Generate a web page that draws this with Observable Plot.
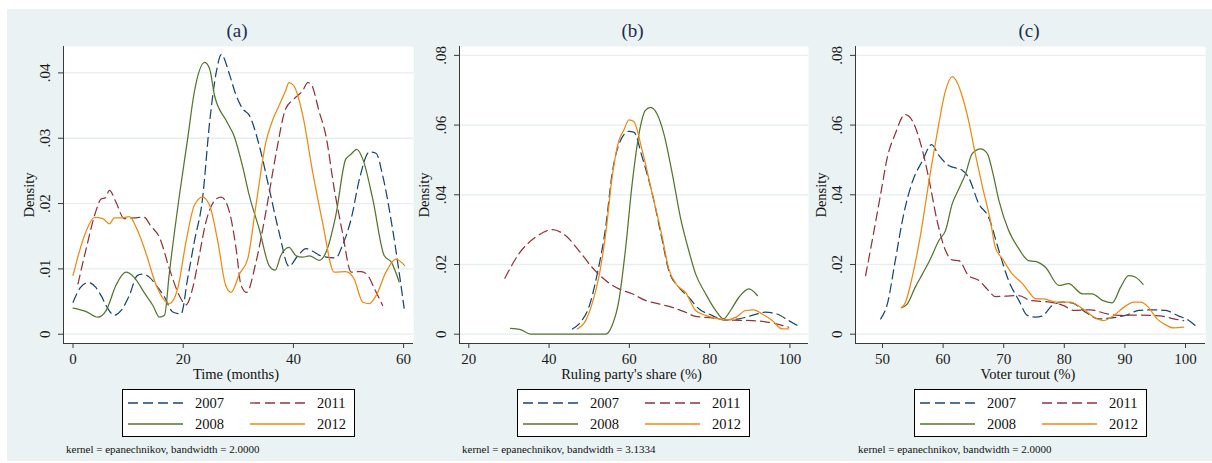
<!DOCTYPE html>
<html><head><meta charset="utf-8">
<script src="https://cdn.jsdelivr.net/npm/d3@7"></script>
<script src="https://cdn.jsdelivr.net/npm/@observablehq/plot@0.6"></script>
<style>
html,body{margin:0;padding:0;background:#fff;}
body{width:1212px;height:463px;position:relative;overflow:hidden;font-family:"Liberation Serif","Times New Roman",serif;}
#bg{position:absolute;left:7px;top:9px;width:1205px;height:452px;background:#eaf2f3;}
.abs{position:absolute;white-space:nowrap;}
.ctr{transform:translate(-50%,-50%);}
.title{font-size:19px;color:#1d2c4c;}
.axt{font-size:14.5px;color:#111;}
.rot{transform:translate(-50%,-50%) rotate(-90deg);}
.note{font-size:11px;color:#111;transform:translateY(-50%);}
</style>
</head><body>
<div id="bg"></div>
<script>
// ---------------- DATA ----------------
const years = [2007, 2011, 2008, 2012];

// Panel (a): Time (months)
const aXTicks = [0, 20, 40, 60];
const aYTicks = [0, 0.01, 0.02, 0.03, 0.04];
const aT2007 = [0,1.4,2.8,4.1,5.1,6,7.5,8.7,10.2,11.7,12.6,13.9,15.1,16.6,18.1,19.6,20.8,22,23.5,24.8,26,26.9,28.5,29.5,30.8,32,33.8,35.6,37.4,39.2,40.8,42.3,43.5,45,47.7,48.9,50.5,52,53.8,55,56.2,58,60.1];
const aD2007 = [.0049,.0072,.0079,.0072,.0059,.0044,.0029,.0036,.0059,.009,.0092,.0087,.0075,.0057,.0034,.0031,.0085,.0141,.0207,.0325,.0401,.0428,.0395,.0368,.0345,.0335,.0289,.0223,.0156,.0104,.012,.0131,.0127,.012,.0117,.0136,.0177,.0238,.0279,.0277,.0243,.0161,.004];
const aT2011 = [0.9,2.5,4.1,5.1,5.9,6.6,7.8,9.3,11.1,12.9,14.1,15.7,17.5,19.3,20.5,21.7,22.9,24.1,26,26.9,28.4,29.6,30.5,31.5,33.2,35,36.8,38.6,40.1,41.7,42.6,43.1,44.7,45.9,47.4,48.9,50.5,52.3,53.5,54.7,56.2];
const aD2011 = [.0077,.0135,.0187,.0207,.0209,.022,.0202,.0177,.0178,.0179,.0166,.0148,.01,.0059,.0045,.007,.012,.0171,.0207,.021,.0187,.0131,.0075,.0064,.011,.0187,.0274,.0345,.036,.0373,.0385,.0384,.034,.0304,.0223,.0156,.0095,.0096,.009,.007,.0044];
const aT2008 = [0,2.3,4.5,6,7.8,9.6,11.1,12.9,14.5,15.7,16.6,17.5,19.3,20.8,22,23.9,24.8,25.7,27.8,29.3,30.8,32,33.8,35.6,36.7,37.7,39.2,40.5,41.7,42.9,44.7,45.9,47.7,49.5,50.4,51.5,52.6,54.4,56.5,57.8,59.2];
const aD2008 = [.004,.0035,.0026,.0036,.0075,.0095,.0087,.0064,.0044,.0026,.0029,.0095,.0212,.0299,.037,.0416,.0406,.0365,.0327,.0302,.0256,.0212,.0161,.0105,.0098,.012,.0133,.012,.0118,.012,.0113,.0125,.0182,.0268,.0275,.0283,.0268,.0207,.012,.011,.008];
const aT2012 = [0,1.1,2.3,3.9,5.4,6.6,7.5,8.7,10.2,11.7,13.2,15.1,17.5,19,20.5,22,23.5,24.8,26.3,27.7,28.7,30.2,31.7,33.2,35,36.2,37.4,38.6,39.2,40.1,41.7,43.5,45.3,47.4,49.5,51,52.6,53.8,55,56.8,58.6,60.2];
const aD2012 = [.009,.0125,.0156,.0179,.0177,.0169,.0178,.0178,.018,.0159,.0125,.0075,.0047,.007,.0141,.0197,.021,.0197,.0141,.0075,.0064,.0092,.0115,.0197,.0294,.0327,.035,.0373,.0385,.038,.0335,.0248,.0171,.0095,.0096,.0085,.0049,.0047,.0059,.0095,.0115,.0105];

// Panel (b): Ruling party's share (%)
const bXTicks = [20, 40, 60, 80, 100];
const bYTicks = [0, 0.02, 0.04, 0.06, 0.08];
const bV2007 = [45.8,47.8,49.9,52,54.1,55.7,57.8,59.9,61.1,63.2,65.7,68.2,69.8,72.3,74.8,77.3,80.6,83.5,87.3,90.6,93.9,96.8,99.7,102.6];
const bD2007 = [.0015,.0034,.0077,.0173,.0307,.046,.0556,.0582,.058,.0508,.0403,.0269,.0183,.0135,.0106,.0073,.0054,.0041,.0044,.0054,.0063,.0058,.0039,.002];
const bV2011 = [29,32.5,36.6,40.8,44.1,47.4,50.7,54.1,57.4,60.7,64,67.3,70.7,74,76.5,80.6,84,90.6,94.7,99.7];
const bD2011 = [.0161,.0231,.0278,.030,.0283,.024,.0192,.0154,.013,.0116,.0097,.0087,.0077,.0063,.0051,.0047,.0041,.0039,.0034,.002];
const bV2008 = [30.4,32.9,35.4,54.1,55.7,57.4,59,60.7,62.4,64,65.3,66.9,68.6,70.7,72.7,74.8,76.5,79,81.5,83.5,85.2,87.3,89.8,91.9];
const bD2008 = [.0017,.0013,0,0,.0025,.0097,.024,.0432,.0575,.0642,.0651,.0632,.0575,.046,.0336,.024,.0173,.0116,.0068,.0044,.0068,.0106,.013,.0111];
const bV2012 = [47,49.1,50.7,52.4,54.1,55.7,57.4,58.6,59.9,61.1,63.2,65.7,68.2,69.8,71.9,74,76.5,79,82.3,84,86.6,89,91,93.1,95.6,98.1,99.7];
const bD2012 = [.0015,.0039,.0087,.0164,.0288,.045,.0556,.0585,.0615,.061,.0527,.0403,.0278,.0188,.014,.012,.0068,.0054,.0044,.0041,.0049,.0068,.007,.0058,.0039,.0015,.0015];

// Panel (c): Voter turnout (%)
const cXTicks = [50, 60, 70, 80, 90, 100];
const cYTicks = [0, 0.02, 0.04, 0.06, 0.08];
const cV2007 = [49.7,50.8,52.1,53.5,54.9,56.6,58.1,59.3,60.9,63.2,64.2,65.9,67.5,69.2,70.8,72.5,73.9,75.2,76.3,78,79.7,81.3,83.5,85.7,87.9,90.1,92.3,94.5,96.7,98.9,100.5,101.6];
const cD2007 = [.0044,.0087,.0211,.0345,.0436,.0498,.0544,.0513,.0484,.047,.045,.0374,.0336,.024,.0154,.0097,.0054,.0049,.0052,.0082,.0092,.009,.0063,.0044,.0047,.0054,.0068,.007,.0068,.0052,.004,.0025];
const cV2011 = [47.2,48.3,49.7,50.8,52.1,53.7,54.9,56.3,57.6,59,60.4,61.5,62.6,64.2,65.9,67.5,68.6,70.2,72.5,74.4,77.7,79.9,81.6,84.3,87.1,89.8,92,94.2,96.4,98.1,99.7];
const cD2011 = [.0168,.0269,.0403,.0508,.0575,.063,.0613,.0546,.045,.0326,.024,.0213,.0211,.0168,.0154,.0125,.0108,.0109,.0111,.0097,.0092,.0082,.0068,.007,.0058,.0054,.0055,.0054,.0051,.0044,.0039];
const cV2008 = [53.1,54.1,55.4,56.6,57.9,59.3,60.4,61.5,62.6,63.7,64.8,66.2,67.3,68.1,69.2,70.8,72.5,74.1,75.2,76.9,79.1,80.7,83,84.6,86.3,87.9,89.3,90.6,91.7,93];
const cD2008 = [.0076,.0087,.0135,.0173,.0216,.0269,.0298,.0374,.0417,.046,.0518,.0532,.0518,.047,.0384,.0298,.0245,.0211,.0209,.0192,.014,.0145,.0116,.0116,.0097,.009,.0135,.0168,.0164,.0143];
const cV2012 = [53.1,53.8,54.9,56.3,57.6,59,60.4,61.5,62.3,63.2,64.2,65.3,66.5,67.8,68.6,69.8,71.4,73.1,74.4,75.2,76.6,78.8,81,82.7,85.4,86.5,88.2,89.8,91.5,92.6,93.9,95.3,96.4,98.1,99.7];
const cD2012 = [.0076,.0092,.0164,.0288,.0432,.0575,.0699,.0739,.0723,.068,.0613,.0518,.0422,.0326,.025,.0216,.0173,.0145,.0116,.0102,.0101,.0092,.0092,.0077,.0044,.0039,.0054,.0077,.0092,.0092,.0077,.0044,.003,.0018,.002];

// ---------------- STYLE / LAYOUT ----------------
const yearStyle = {
  2007: {stroke: "#1a476f", dash: "9,5"},
  2011: {stroke: "#90353b", dash: "9,5"},
  2008: {stroke: "#55752f", dash: null},
  2012: {stroke: "#ee8a12", dash: null}
};
const svgTop = 40, plotTop = 46, plotBottom = 343, svgBottom = 370;

const panels = [
  {title: "(a)", xLabel: "Time (months)", note: "kernel = epanechnikov, bandwidth = 2.0000",
   left: 7, plotLeft: 63, plotRight: 413, xDomain: [-1.73, 61.8], yDomain: [-0.00142, 0.04404],
   xTicks: aXTicks, yTicks: aYTicks, densityX: 28.5, noteX: 66,
   series: {2007: [aT2007, aD2007], 2011: [aT2011, aD2011], 2008: [aT2008, aD2008], 2012: [aT2012, aD2012]}},
  {title: "(b)", xLabel: "Ruling party's share (%)", note: "kernel = epanechnikov, bandwidth = 3.1334",
   left: 413, plotLeft: 459, plotRight: 808, xDomain: [17.68, 104.63], yDomain: [-0.00267, 0.08255],
   xTicks: bXTicks, yTicks: bYTicks, densityX: 424, noteX: 462,
   series: {2007: [bV2007, bD2007], 2011: [bV2011, bD2011], 2008: [bV2008, bD2008], 2012: [bV2012, bD2012]}},
  {title: "(c)", xLabel: "Voter turout (%)", note: "kernel = epanechnikov, bandwidth = 2.0000",
   left: 808, plotLeft: 855, plotRight: 1205, xDomain: [45.54, 103.3], yDomain: [-0.00267, 0.08255],
   xTicks: cXTicks, yTicks: cYTicks, densityX: 821, noteX: 858,
   series: {2007: [cV2007, cD2007], 2011: [cV2011, cD2011], 2008: [cV2008, cD2008], 2012: [cV2012, cD2012]}}
];

const yFmt = d => d === 0 ? "0" : d3.format(".2f")(d).replace(/^0/, "");

function addDiv(cls, text, x, y, extra) {
  const el = document.createElement("div");
  el.className = "abs " + cls;
  el.textContent = text;
  el.style.left = x + "px";
  el.style.top = y + "px";
  if (extra) Object.assign(el.style, extra);
  document.body.appendChild(el);
  return el;
}

panels.forEach(p => {
  const lineMarks = years.map(yr => {
    const [xs, ds] = p.series[yr];
    const rows = xs.map((x, i) => ({x, y: ds[i]}));
    const st = yearStyle[yr];
    return Plot.line(rows, {x: "x", y: "y", stroke: st.stroke, strokeWidth: 1.25,
      strokeDasharray: st.dash || undefined, curve: "monotone-x"});
  });
  const chart = Plot.plot({
    width: p.plotRight - p.left,
    height: svgBottom - svgTop,
    marginLeft: p.plotLeft - p.left,
    marginRight: 0,
    marginTop: plotTop - svgTop,
    marginBottom: svgBottom - plotBottom,
    x: {domain: p.xDomain, label: null},
    y: {domain: p.yDomain, label: null},
    style: {background: "transparent", fontFamily: "'Liberation Serif', 'Times New Roman', serif",
            fontSize: "15px", color: "#1a1a1a", overflow: "visible"},
    marks: [
      Plot.frame({fill: "white", stroke: "none"}),
      Plot.gridY({ticks: p.yTicks, stroke: "#e6eef1", strokeOpacity: 1, strokeWidth: 1.3}),
      ...lineMarks,
      Plot.ruleX([p.xDomain[0]], {stroke: "#3a3a3a", strokeWidth: 1}),
      Plot.ruleY([p.yDomain[0]], {stroke: "#3a3a3a", strokeWidth: 1}),
      Plot.axisX({ticks: p.xTicks, label: null, tickSize: 5, tickPadding: 4.5, fontSize: 15, stroke: "#3a3a3a"}),
      Plot.axisY({ticks: p.yTicks, label: null, tickSize: 5, tickPadding: 9, tickRotate: -90, tickFormat: yFmt,
                  fontSize: 15, stroke: "#3a3a3a"})
    ]
  });
  chart.style.position = "absolute";
  chart.style.left = p.left + "px";
  chart.style.top = svgTop + "px";
  document.body.appendChild(chart);

  const cx = (p.plotLeft + p.plotRight) / 2;
  addDiv("title ctr", p.title, cx - 1, 31);
  addDiv("axt ctr", p.xLabel, cx - 2, 373.5);
  addDiv("axt rot", "Density", p.densityX, (plotTop + plotBottom) / 2);
  addDiv("note", p.note, p.noteX, 449);

  // legend
  const lw = 233, lh = 48;
  const lg = d3.create("svg").attr("width", lw).attr("height", lh)
    .style("position", "absolute").style("left", (cx - lw / 2) + "px").style("top", "389px");
  lg.append("rect").attr("x", 0.5).attr("y", 0.5).attr("width", lw - 1).attr("height", lh - 1)
    .attr("fill", "white").attr("stroke", "#000").attr("stroke-width", 1);
  const slots = [[6, 14], [128, 14], [6, 35], [128, 35]];
  years.forEach((yr, i) => {
    const [sx, sy] = slots[i];
    const st = yearStyle[yr];
    lg.append("line").attr("x1", sx).attr("x2", sx + 55).attr("y1", sy).attr("y2", sy)
      .attr("stroke", st.stroke).attr("stroke-width", 1.3)
      .attr("stroke-dasharray", st.dash ? "10,5" : null);
    lg.append("text").attr("x", sx + 67).attr("y", sy + 5).text(yr)
      .attr("font-family", "'Liberation Serif', 'Times New Roman', serif").attr("font-size", 14.5)
      .attr("fill", "#111");
  });
  document.body.appendChild(lg.node());
});
</script>
</body></html>
